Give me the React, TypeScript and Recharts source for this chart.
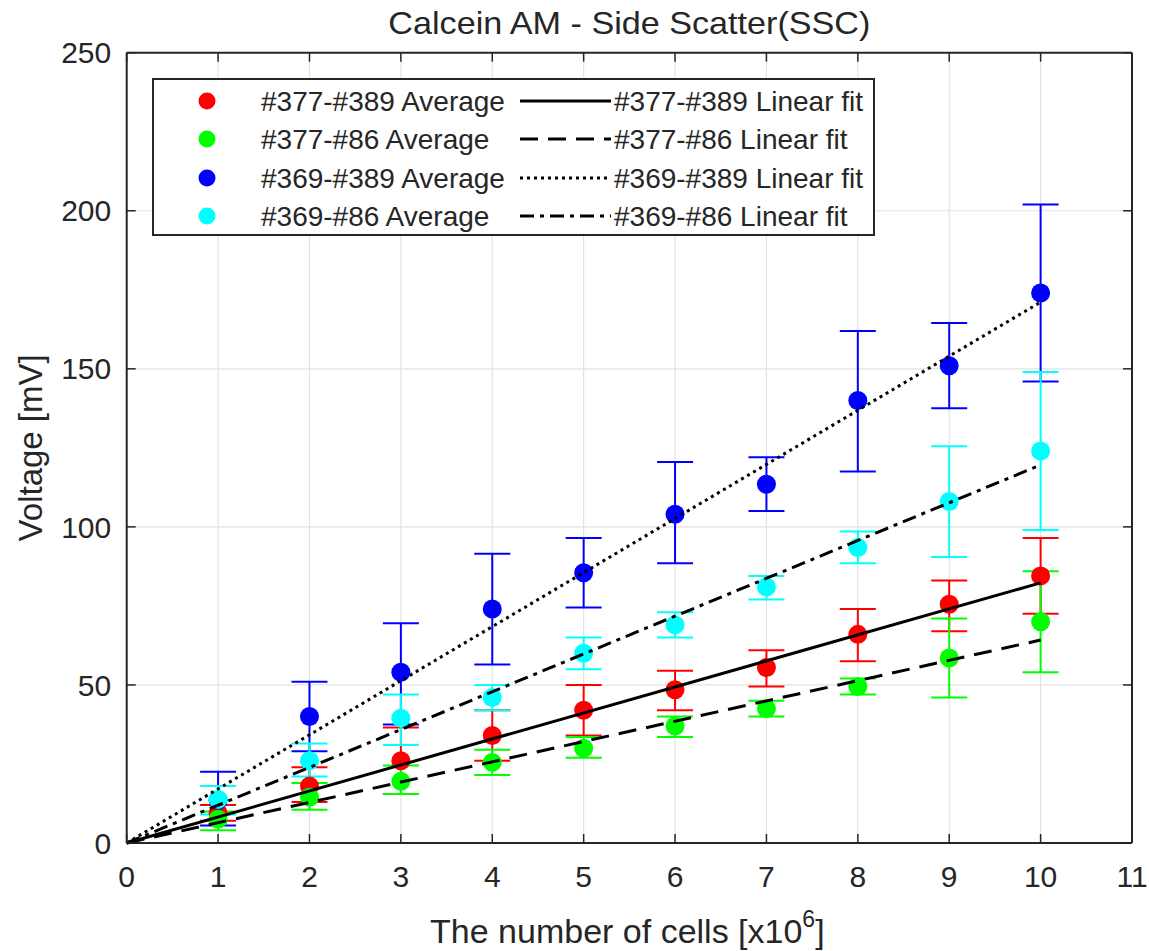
import {
    ComposedChart,
    Scatter,
    XAxis,
    YAxis,
    CartesianGrid,
    ErrorBar,
    Legend,
} from "recharts";

const CELLS = [1, 2, 3, 4, 5, 6, 7, 8, 9, 10];
const X_TICKS = [0, 1, 2, 3, 4, 5, 6, 7, 8, 9, 10, 11];
const Y_TICKS = [0, 50, 100, 150, 200, 250];

// #377-#389
const AVG_377_389 = [9.5, 18, 26, 34, 42, 48.5, 55.5, 66, 75.5, 84.5];
const HI_377_389 = [12, 24, 36.5, 42, 50, 54.5, 61, 74, 83, 96.5];
const LO_377_389 = [7, 13, 15.5, 26, 34, 42, 49.5, 57.5, 67, 72.5];

// #377-#86
const AVG_377_86 = [7.5, 14.5, 19.5, 25.5, 30, 37, 42.5, 49.5, 58.5, 70];
const HI_377_86 = [10, 19, 24.5, 29.5, 33.5, 40, 45, 52, 71, 86];
const LO_377_86 = [4, 10.5, 15.5, 21.5, 27, 33.5, 40, 47, 46, 54];

// #369-#389
const AVG_369_389 = [13.5, 40, 54, 74, 85.5, 104, 113.5, 140, 151, 174];
const HI_369_389 = [22.5, 51, 69.5, 91.5, 96.5, 120.5, 122, 162, 164.5, 202];
const LO_369_389 = [5.5, 29, 37.5, 56.5, 74.5, 88.5, 105, 117.5, 137.5, 146];

// #369-#86
const AVG_369_86 = [13.8, 26, 39.5, 46, 60, 69, 81, 93.5, 108, 124];
const HI_369_86 = [18, 31.5, 47, 50, 65, 73, 84.5, 98.5, 125.5, 149];
const LO_369_86 = [9, 21, 31, 42, 55, 65, 77, 88.5, 90.5, 99];

// linear fits, start and end
const FIT_X = [0, 10];
const FIT_377_389 = [0, 82.3];
const FIT_377_86 = [0, 64.2];
const FIT_369_389 = [0, 171.1];
const FIT_369_86 = [0, 119.6];

const TEXT = "#262626";
const FONT = "'Liberation Sans', Arial, sans-serif";
const TICK_LEN = 9;

const points = (avg: number[], hi: number[], lo: number[]) =>
    CELLS.map((x, i) => ({ x, y: avg[i], err: [avg[i] - lo[i], hi[i] - avg[i]] }));

const fit = (ys: number[]) => FIT_X.map((x, i) => ({ x, y: ys[i] }));

const SERIES = [
    { name: "#377-#389", color: "#ff0000", data: points(AVG_377_389, HI_377_389, LO_377_389) },
    { name: "#377-#86", color: "#00ff00", data: points(AVG_377_86, HI_377_86, LO_377_86) },
    { name: "#369-#389", color: "#0000ff", data: points(AVG_369_389, HI_369_389, LO_369_389) },
    { name: "#369-#86", color: "#00ffff", data: points(AVG_369_86, HI_369_86, LO_369_86) },
];

const FITS = [
    { name: "#377-#389", dash: undefined, data: fit(FIT_377_389) },
    { name: "#377-#86", dash: "18 10", data: fit(FIT_377_86) },
    { name: "#369-#389", dash: "3 4", data: fit(FIT_369_389) },
    { name: "#369-#86", dash: "14 6 4 6", data: fit(FIT_369_86) },
];

const BOTTOM_GAP = 23;
const LEFT_GAP = 15.5;

// matlab style ticks: marks point inwards, labels outside
function makeTick(side: "bottom" | "left" | "top" | "right") {
    return (p: any) => {
        const { x, y, payload } = p;
        if (side === "bottom") {
            const ay = y - BOTTOM_GAP;
            return (
                <g>
                    <line x1={x} x2={x} y1={ay} y2={ay - TICK_LEN} stroke={TEXT} strokeWidth={1.5} />
                    <text x={x} y={y} dy="0.71em" textAnchor="middle" fontSize={30} fill={TEXT} fontFamily={FONT}>
                        {payload.value}
                    </text>
                </g>
            );
        }
        if (side === "left") {
            const ax = x + LEFT_GAP;
            return (
                <g>
                    <line x1={ax} x2={ax + TICK_LEN} y1={y} y2={y} stroke={TEXT} strokeWidth={1.5} />
                    <text x={x} y={y} dy="0.355em" textAnchor="end" fontSize={30} fill={TEXT} fontFamily={FONT}>
                        {payload.value}
                    </text>
                </g>
            );
        }
        if (side === "top") {
            return <line x1={x} x2={x} y1={y} y2={y + TICK_LEN} stroke={TEXT} strokeWidth={1.5} />;
        }
        return <line x1={x} x2={x - TICK_LEN} y1={y} y2={y} stroke={TEXT} strokeWidth={1.5} />;
    };
}

function LegendBox() {
    const rows = [23, 61, 100, 138];
    return (
        <svg width={723} height={158} style={{ display: "block" }}>
            <rect x={1} y={1} width={721} height={156} fill="#fff" stroke={TEXT} strokeWidth={2} />
            {SERIES.map((s, i) => (
                <g key={s.name}>
                    <circle cx={55} cy={rows[i]} r={8.5} fill={s.color} />
                    <text x={109} y={rows[i] + 10} fontSize={28} fill={TEXT} fontFamily={FONT}>
                        {s.name} Average
                    </text>
                    <line
                        x1={368}
                        x2={459}
                        y1={rows[i]}
                        y2={rows[i]}
                        stroke="#000"
                        strokeWidth={3}
                        strokeDasharray={FITS[i].dash}
                    />
                    <text x={462} y={rows[i] + 10} fontSize={28} fill={TEXT} fontFamily={FONT}>
                        {FITS[i].name} Linear fit
                    </text>
                </g>
            ))}
        </svg>
    );
}

export default function App() {
    const axisLine = { stroke: TEXT, strokeWidth: 2 };

    return (
        <div style={{ width: 1149, height: 951, background: "#fff" }}>
            <style>{`body{margin:0}`}</style>
            <ComposedChart
                width={1149}
                height={951}
                margin={{ top: 51.7, right: 16, bottom: 48, left: 66.7 }}
                style={{ fontFamily: FONT }}
            >
                <CartesianGrid stroke="#e2e2e2" strokeWidth={1.2} />
                <XAxis
                    dataKey="x"
                    type="number"
                    domain={[0, 11]}
                    ticks={X_TICKS}
                    interval={0}
                    height={60}
                    tickSize={0}
                    tickMargin={BOTTOM_GAP}
                    axisLine={axisLine}
                    tickLine={false}
                    tick={makeTick("bottom")}
                    label={{
                        content: ({ viewBox }: any) => (
                            <text
                                x={viewBox.x + viewBox.width / 2 - 2}
                                y={viewBox.y + 100}
                                textAnchor="middle"
                                fontSize={34}
                                fill={TEXT}
                                fontFamily={FONT}
                            >
                                The number of cells [x10
                                <tspan fontSize={23} dy={-16}>6</tspan>
                                <tspan dy={16}>]</tspan>
                            </text>
                        ),
                    }}
                />
                <XAxis
                    xAxisId="top"
                    orientation="top"
                    dataKey="x"
                    type="number"
                    domain={[0, 11]}
                    ticks={X_TICKS}
                    interval={0}
                    height={1}
                    tickSize={0}
                    tickMargin={0}
                    axisLine={axisLine}
                    tickLine={false}
                    tick={makeTick("top")}
                    label={{
                        content: ({ viewBox }: any) => (
                            <text
                                x={viewBox.x + viewBox.width / 2}
                                y={viewBox.y - 18}
                                textAnchor="middle"
                                fontSize={32}
                                fill={TEXT}
                                fontFamily={FONT}
                                textLength={482}
                                lengthAdjust="spacingAndGlyphs"
                            >
                                Calcein AM - Side Scatter(SSC)
                            </text>
                        ),
                    }}
                />
                <YAxis
                    dataKey="y"
                    type="number"
                    domain={[0, 250]}
                    ticks={Y_TICKS}
                    interval={0}
                    width={60}
                    tickSize={0}
                    tickMargin={LEFT_GAP}
                    axisLine={axisLine}
                    tickLine={false}
                    tick={makeTick("left")}
                    label={{
                        content: ({ viewBox }: any) => (
                            <text
                                transform={`translate(42, ${viewBox.y + viewBox.height / 2}) rotate(-90)`}
                                textAnchor="middle"
                                fontSize={33}
                                fill={TEXT}
                                fontFamily={FONT}
                            >
                                Voltage [mV]
                            </text>
                        ),
                    }}
                />
                <YAxis
                    yAxisId="right"
                    orientation="right"
                    dataKey="y"
                    type="number"
                    domain={[0, 250]}
                    ticks={Y_TICKS}
                    interval={0}
                    width={1}
                    tickSize={0}
                    tickMargin={0}
                    axisLine={axisLine}
                    tickLine={false}
                    tick={makeTick("right")}
                />
                {SERIES.map(s => (
                    <Scatter
                        key={s.name}
                        name={`${s.name} Average`}
                        data={s.data}
                        fill={s.color}
                        isAnimationActive={false}
                        shape={(p: any) => <circle cx={p.cx} cy={p.cy} r={9.5} fill={s.color} />}
                    >
                        <ErrorBar dataKey="err" direction="y" width={18} stroke={s.color} strokeWidth={2} />
                    </Scatter>
                ))}
                {FITS.map(f => (
                    <Scatter
                        key={f.name + "fit"}
                        name={`${f.name} Linear fit`}
                        data={f.data}
                        xAxisId="top"
                        yAxisId="right"
                        fill="#000"
                        isAnimationActive={false}
                        line={{ stroke: "#000", strokeWidth: 3, strokeDasharray: f.dash }}
                        shape={() => <g />}
                    />
                ))}
                <Legend
                    layout="vertical"
                    align="center"
                    verticalAlign="middle"
                    content={() => <LegendBox />}
                    wrapperStyle={{ left: 152, top: 78, width: 723, height: 158 }}
                />
            </ComposedChart>
        </div>
    );
}
